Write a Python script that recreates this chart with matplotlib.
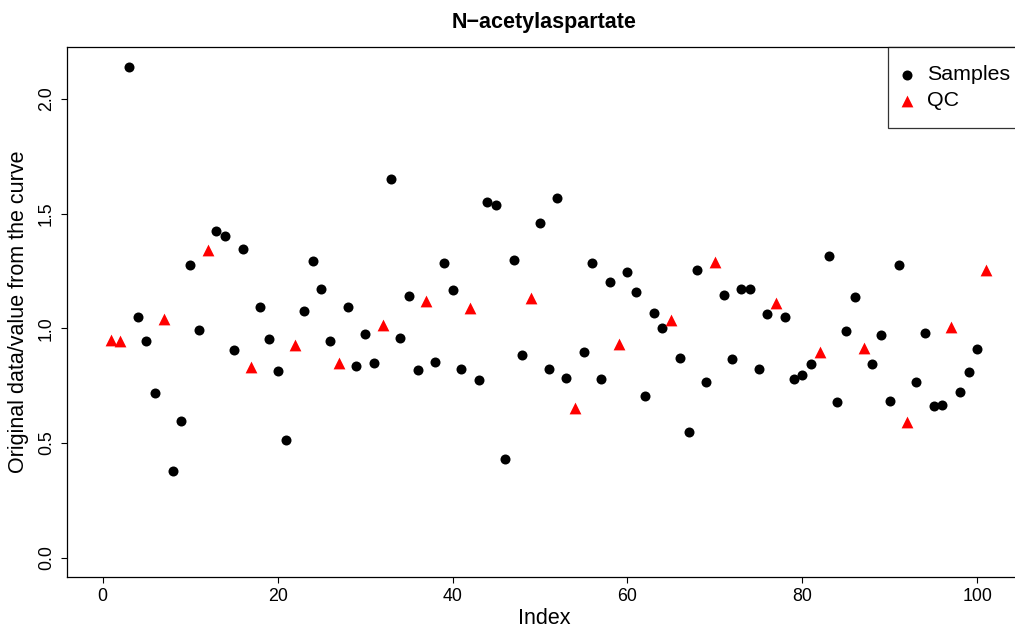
import numpy as np
import matplotlib
matplotlib.use("Agg")
import matplotlib.pyplot as plt

plt.rcParams["font.family"] = ["Liberation Sans", "DejaVu Sans"]

# QC injections
qc_idx = [1, 2, 7, 12, 17, 22, 27, 32, 37, 42, 49, 54, 59, 65, 70, 77, 82, 87, 92, 97, 101]
qc_val = [0.948, 0.943, 1.040, 1.340, 0.833, 0.929, 0.849, 1.013, 1.117, 1.089, 1.132,
          0.654, 0.933, 1.038, 1.289, 1.112, 0.898, 0.914, 0.590, 1.006, 1.253]

# samples
sample_idx = [3, 4, 5, 6, 8, 9, 10, 11, 13, 14, 15, 16, 18, 19, 20, 21, 23, 24, 25, 26,
              28, 29, 30, 31, 33, 34, 35, 36, 38, 39, 40, 41, 43, 44, 45, 46, 47, 48,
              50, 51, 52, 53, 55, 56, 57, 58, 60, 61, 62, 63, 64, 66, 67, 68, 69, 71,
              72, 73, 74, 75, 76, 78, 79, 80, 81, 83, 84, 85, 86, 88, 89, 90, 91, 93,
              94, 95, 96, 98, 99, 100]
sample_val = [2.137, 1.048, 0.946, 0.716, 0.379, 0.594, 1.275, 0.991, 1.423, 1.401, 0.904,
              1.345, 1.092, 0.955, 0.812, 0.512, 1.077, 1.292, 1.173, 0.943,
              1.092, 0.837, 0.974, 0.847, 1.650, 0.956, 1.140, 0.817, 0.852, 1.283,
              1.166, 0.821, 0.773, 1.549, 1.536, 0.432, 1.297, 0.882,
              1.458, 0.821, 1.567, 0.785, 0.895, 1.283, 0.778, 1.201, 1.244, 1.157,
              0.703, 1.065, 1.000, 0.869, 0.546, 1.253, 0.765, 1.143,
              0.865, 1.173, 1.173, 0.821, 1.061, 1.048, 0.778, 0.796, 0.843, 1.314,
              0.677, 0.986, 1.137, 0.843, 0.969, 0.682, 1.275, 0.766,
              0.978, 0.660, 0.664, 0.721, 0.808, 0.908]

xticks = [0, 20, 40, 60, 80, 100]
yticks = [0.0, 0.5, 1.0, 1.5, 2.0]

fig = plt.figure(figsize=(10.15, 6.29), dpi=100)
# plot region runs a little past the right edge, as in the original
ax = fig.add_axes([0.0663, 0.0822, 0.940, 0.843])

ax.scatter(sample_idx, sample_val, s=52, marker="o", color="black",
           linewidths=0, label="Samples", zorder=3)
ax.scatter(qc_idx, qc_val, s=72, marker="^", color="red",
           linewidths=0, label="QC", zorder=3)

ax.set_xlim(-4.04, 105.04)
ax.set_ylim(-0.0856, 2.2256)
ax.set_xticks(xticks)
ax.set_yticks(yticks)
ax.set_yticklabels([f"{v:.1f}" for v in yticks], rotation=90, va="center")

for sp in ax.spines.values():
    sp.set_linewidth(0.9)
ax.tick_params(length=4, width=0.8, labelsize=12.8, pad=4)
ax.tick_params(axis="y", pad=5)

ax.set_title("N\u2212acetylaspartate", fontsize=15.5, fontweight="bold", pad=14)
ax.set_xlabel("Index", fontsize=15.5, labelpad=2)
ax.set_ylabel("Original data/value from the curve", fontsize=15.5, labelpad=6)

leg = ax.legend(loc="upper left", bbox_to_anchor=(0.860, 1.0), fontsize=15.4,
                frameon=True, fancybox=False, borderpad=0.85, handlelength=0.05,
                handletextpad=0.93, labelspacing=0.33, borderaxespad=0, scatterpoints=1)
leg.get_frame().set_edgecolor("black")
leg.get_frame().set_linewidth(0.9)

fig.savefig("out.png", dpi=100)
